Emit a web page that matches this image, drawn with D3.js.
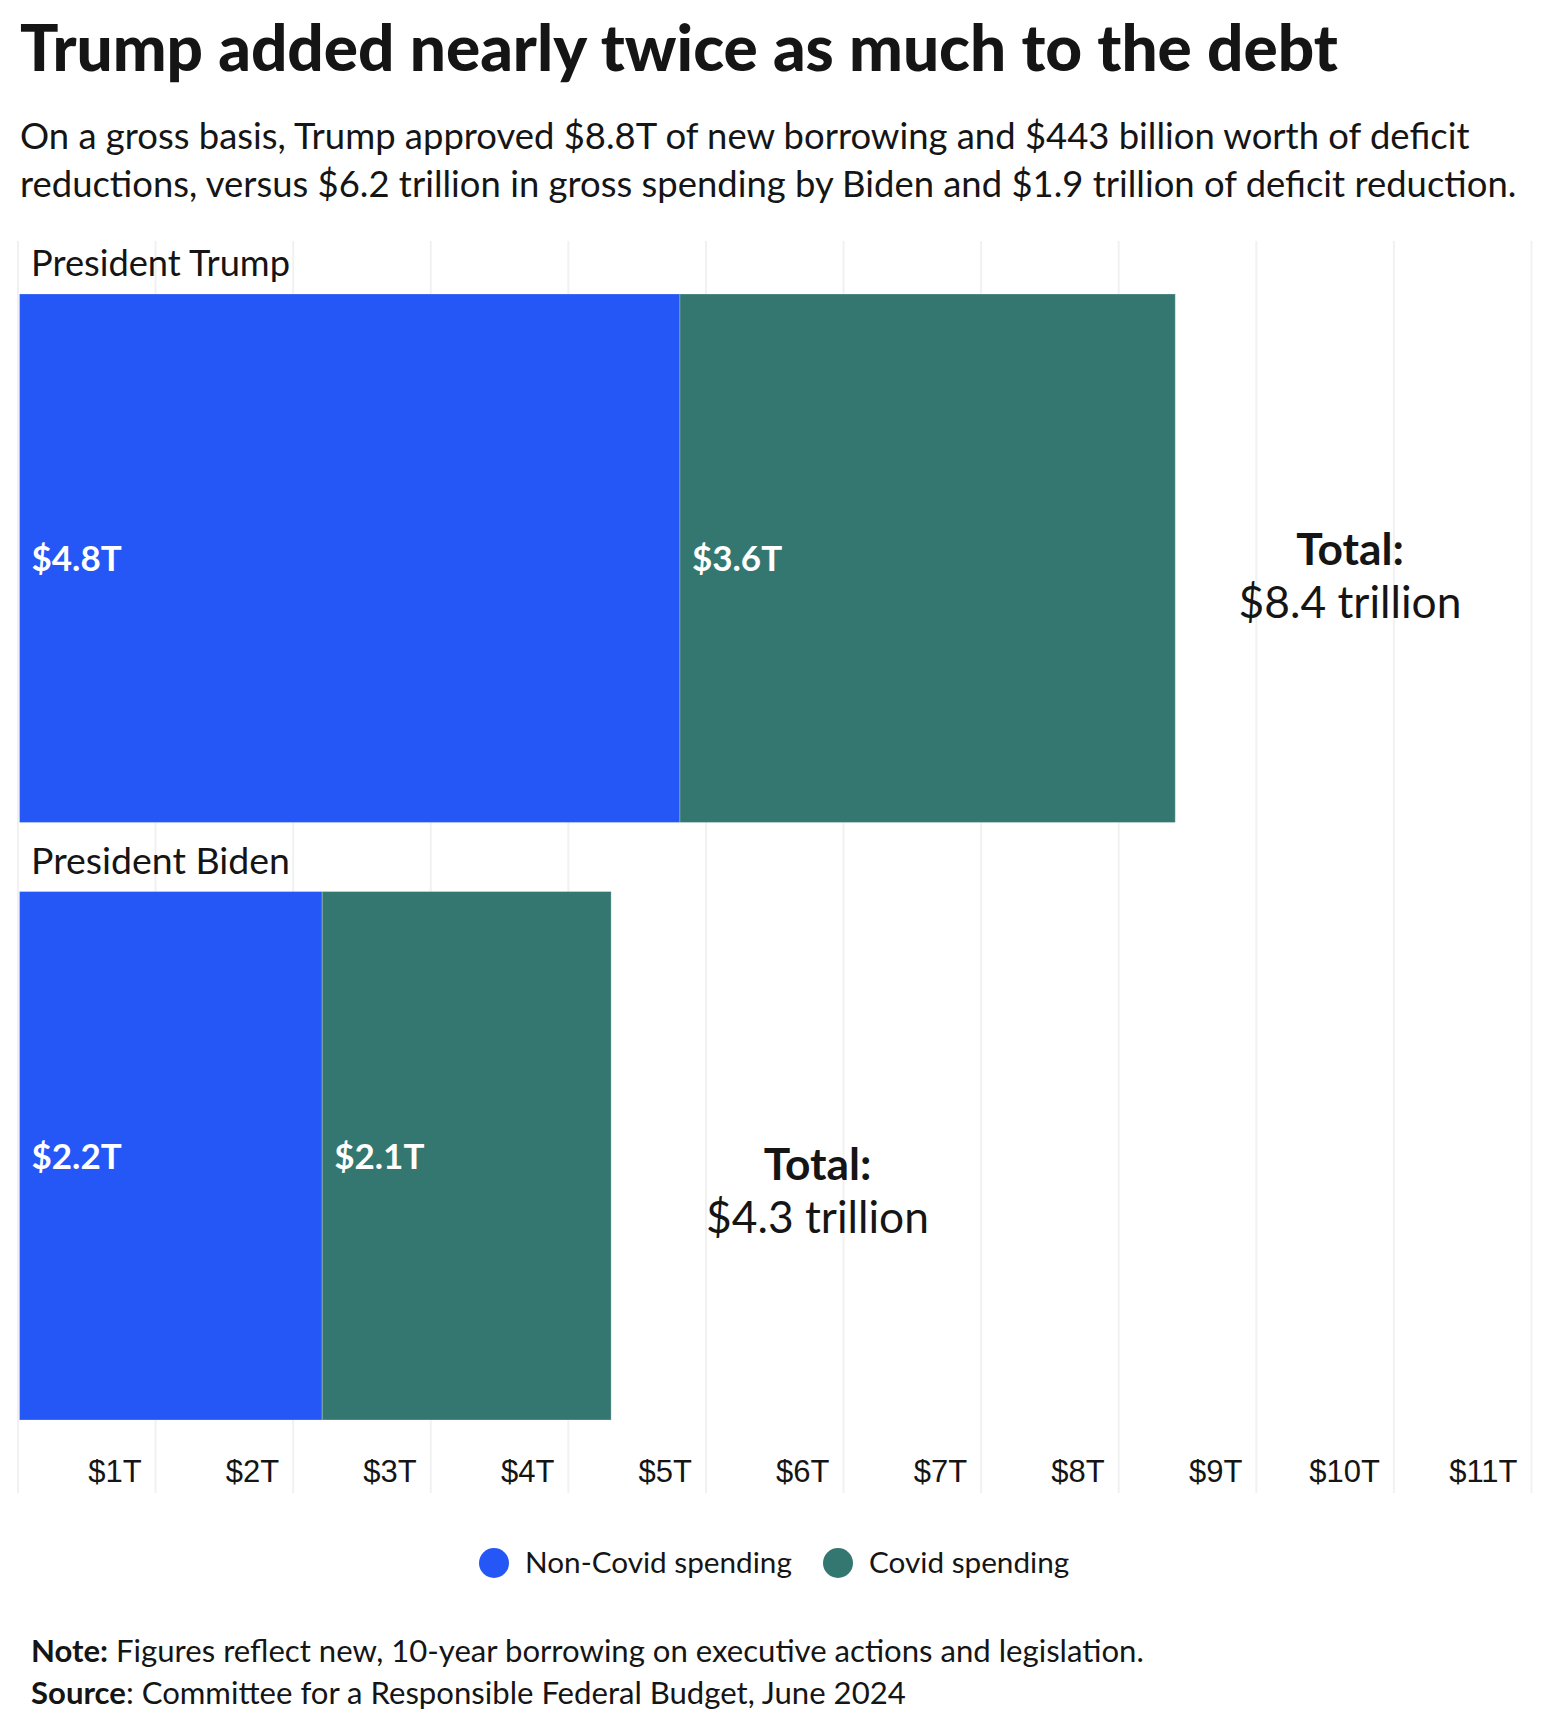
<!DOCTYPE html>
<html><head><meta charset="utf-8">
<script src="https://cdn.jsdelivr.net/npm/d3@7"></script>
<style>
html,body{margin:0;padding:0;background:#fff;}
svg{display:block;font-family:Lato,"Noto Sans",sans-serif;}
</style></head>
<body>
<svg id="chart" width="1546" height="1734"></svg>
<script>
// ---- data ----
const presidents = ["President Trump", "President Biden"];
const nonCovid = [4.8, 2.2];
const covid = [3.6, 2.1];
const totals = [8.4, 4.3];
const seriesNames = ["Non-Covid spending", "Covid spending"];
const tickValues = [1,2,3,4,5,6,7,8,9,10,11];
const tickLabels = ["$1T","$2T","$3T","$4T","$5T","$6T","$7T","$8T","$9T","$10T","$11T"];
const titleText = "Trump added nearly twice as much to the debt";
const subtitleLines = [
  "On a gross basis, Trump approved $8.8T of new borrowing and $443 billion worth of deficit",
  "reductions, versus $6.2 trillion in gross spending by Biden and $1.9 trillion of deficit reduction."
];
const noteText = "Figures reflect new, 10-year borrowing on executive actions and legislation.";
const sourceText = "Committee for a Responsible Federal Budget, June 2024";

const colors = {"Non-Covid spending": "#2457f6", "Covid spending": "#347771"};
const ink = "#151515";

const svg = d3.select("#chart");
function fitW(sel, target){
  const w = sel.node().getBBox().width;
  const fs = parseFloat(sel.attr("font-size"));
  const nf = fs * target / w;
  sel.attr("font-size", nf);
  return nf;
}

// ---- title & subtitle ----
const title = svg.append("text").attr("x", 20).attr("y", 71)
  .attr("font-size", 56).attr("font-weight", 900).attr("fill", ink).text(titleText);
fitW(title, 1318);

const sub = subtitleLines.map((t,i) => svg.append("text").attr("x", 20).attr("y", 149 + i*48)
  .attr("font-size", 30).attr("fill", ink).text(t));
const s1 = sub[0].node().getBBox().width, s2 = sub[1].node().getBBox().width;
const subFs = 30 * ((1456/s1) + (1491/s2)) / 2;
sub.forEach(s => s.attr("font-size", subFs));

// ---- scales ----
const x = d3.scaleLinear().domain([0, 11]).range([19.5, 1533]);
const y = d3.scaleBand().domain(presidents).range([294, 1420]).paddingInner(0.1156).paddingOuter(0);

// gridlines via axis
const grid = svg.append("g").attr("transform", "translate(-2,241)")
  .call(d3.axisBottom(x).tickValues(d3.range(0, 12)).tickSize(1252).tickFormat(""));
grid.select(".domain").remove();
grid.selectAll(".tick line").attr("stroke", "#f1f1f1").attr("stroke-width", 2);

// x axis labels
const xa = svg.append("g").attr("transform", "translate(0,1482)")
  .call(d3.axisBottom(x).tickValues(tickValues).tickSize(0).tickPadding(0)
    .tickFormat((d,i) => tickLabels[i]));
xa.select(".domain").remove();
xa.selectAll(".tick text").attr("font-family", "'Liberation Sans', Arial, sans-serif")
  .attr("font-size", 31).attr("fill", ink).attr("text-anchor", "end")
  .attr("dx", -16).attr("y", 0).attr("dy", 0);

// ---- bars ----
const rows = presidents.map((p,i) => ({p, segs: [
  {name: seriesNames[0], x0: 0, x1: nonCovid[i], v: nonCovid[i]},
  {name: seriesNames[1], x0: nonCovid[i], x1: nonCovid[i] + covid[i], v: covid[i]}
], total: totals[i]}));

const rowG = svg.selectAll("g.row").data(rows).join("g").attr("class", "row");
rowG.append("text").attr("x", 31).attr("y", d => y(d.p) - 18)
  .attr("font-size", 30).attr("fill", ink).text(d => d.p)
  .each(function(){ fitW(d3.select(this), 259); });

rowG.selectAll("rect").data(d => d.segs.map(s => ({...s, p: d.p}))).join("rect")
  .attr("x", d => x(d.x0)).attr("y", d => y(d.p))
  .attr("width", d => x(d.x1) - x(d.x0)).attr("height", y.bandwidth())
  .attr("fill", d => colors[d.name])
  .attr("stroke", "#ffffff").attr("stroke-opacity", 0.25).attr("stroke-width", 1);

rowG.selectAll("text.val").data(d => d.segs.map(s => ({...s, p: d.p}))).join("text")
  .attr("class", "val")
  .attr("x", d => x(d.x0) + 12).attr("y", d => y(d.p) + y.bandwidth()/2 + 13)
  .attr("font-size", 35).attr("font-weight", 700).attr("fill", "#fff")
  .text(d => "$" + d3.format(".1f")(d.v) + "T");

// totals annotations
const totalPos = [9.67, 5.8];
const totalDy = [7, 24];
rows.forEach((r,i) => {
  const cx = x(totalPos[i]);
  const cy = y(r.p) + y.bandwidth()/2 + totalDy[i];
  const t2 = svg.append("text").attr("x", cx).attr("y", cy + 53).attr("text-anchor", "middle")
    .attr("font-size", 40).attr("fill", ink).text("$" + d3.format(".1f")(r.total) + " trillion");
  const fs = fitW(t2, 223);
  svg.append("text").attr("x", cx).attr("y", cy).attr("text-anchor", "middle")
    .attr("font-size", fs).attr("font-weight", 700).attr("fill", ink).text("Total:");
});

// ---- legend ----
const legendX = [494, 838];
const leg = svg.selectAll("g.leg").data(seriesNames).join("g").attr("class", "leg")
  .attr("transform", (d,i) => `translate(${legendX[i]},1563)`);
leg.append("circle").attr("r", 15).attr("fill", d => colors[d]);
leg.append("text").attr("x", 31).attr("y", 10).attr("font-size", 27).attr("fill", ink).text(d => d);
const lw = leg.select("text").nodes()[0].getBBox().width;
leg.selectAll("text").attr("font-size", 27 * 267 / lw);

// ---- note & source ----
const note = svg.append("text").attr("x", 31).attr("y", 1662).attr("font-size", 27).attr("fill", ink);
note.append("tspan").attr("font-weight", 700).text("Note:");
note.append("tspan").text(" " + noteText);
const src = svg.append("text").attr("x", 31).attr("y", 1704).attr("font-size", 27).attr("fill", ink);
src.append("tspan").attr("font-weight", 700).text("Source");
src.append("tspan").text(": " + sourceText);
const n1 = note.node().getBBox().width, n2 = src.node().getBBox().width;
const nfs = 27 * ((1106/n1) + (881/n2)) / 2;
note.attr("font-size", nfs); src.attr("font-size", nfs);
</script>
</body></html>
